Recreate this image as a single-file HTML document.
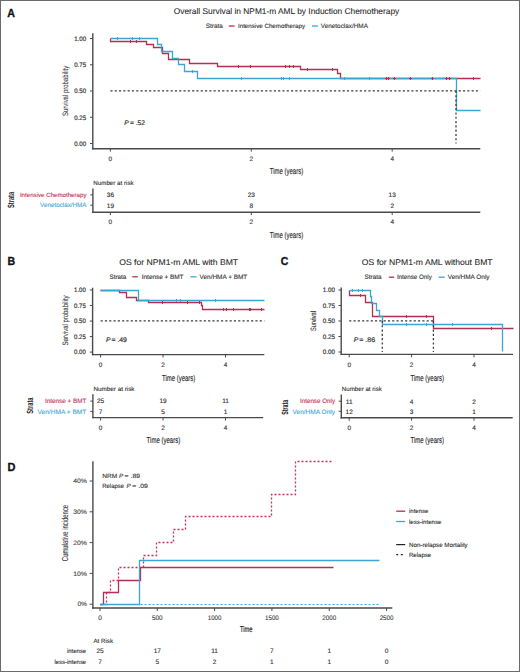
<!DOCTYPE html>
<html><head><meta charset="utf-8"><title>Figure</title>
<style>
html,body{margin:0;padding:0;background:#fff;}
body{width:520px;height:672px;overflow:hidden;font-family:"Liberation Sans", sans-serif;}
svg{display:block;}
</style></head><body>
<svg width="520" height="672" viewBox="0 0 520 672" text-rendering="geometricPrecision" font-family='"Liberation Sans", sans-serif'>
<rect x="0" y="0" width="520" height="672" fill="#ffffff"/>
<text x="7.30" y="17.15" font-size="11.8" fill="#111" stroke="#111" stroke-width="0.35" font-weight="bold" textLength="7.7" lengthAdjust="spacingAndGlyphs">A</text>
<text x="286.50" y="14.30" font-size="8.34" fill="#262626" stroke="#262626" stroke-width="0.08" text-anchor="middle" textLength="225.4" lengthAdjust="spacingAndGlyphs">Overall Survival in NPM1-m AML by Induction Chemotherapy</text>
<text x="205.80" y="28.27" font-size="6.3" fill="#333333" stroke="#333333" stroke-width="0.12" textLength="16.9" lengthAdjust="spacingAndGlyphs">Strata</text>
<line x1="228.80" y1="26.00" x2="234.60" y2="26.00" stroke="#B42F50" stroke-width="1.3"/>
<text x="238.00" y="28.23" font-size="6.2" fill="#333333" stroke="#333333" stroke-width="0.12" textLength="67" lengthAdjust="spacingAndGlyphs">Intensive Chemotherapy</text>
<line x1="312.00" y1="26.00" x2="317.90" y2="26.00" stroke="#3BA6D4" stroke-width="1.3"/>
<text x="320.80" y="28.27" font-size="6.3" fill="#333333" stroke="#333333" stroke-width="0.12" textLength="47.1" lengthAdjust="spacingAndGlyphs">Venetoclax/HMA</text>
<line x1="92.80" y1="33.30" x2="92.80" y2="149.40" stroke="#4a4a4a" stroke-width="1.4"/>
<line x1="92.10" y1="148.70" x2="480.30" y2="148.70" stroke="#4a4a4a" stroke-width="1.4"/>
<line x1="90.00" y1="38.50" x2="92.80" y2="38.50" stroke="#4a4a4a" stroke-width="1.0"/>
<text x="86.10" y="40.80" font-size="6.4" fill="#3a3a3a" stroke="#3a3a3a" stroke-width="0.2" text-anchor="end" textLength="11.9" lengthAdjust="spacingAndGlyphs">1.00</text>
<line x1="90.00" y1="64.75" x2="92.80" y2="64.75" stroke="#4a4a4a" stroke-width="1.0"/>
<text x="86.10" y="67.05" font-size="6.4" fill="#3a3a3a" stroke="#3a3a3a" stroke-width="0.2" text-anchor="end" textLength="11.9" lengthAdjust="spacingAndGlyphs">0.75</text>
<line x1="90.00" y1="91.00" x2="92.80" y2="91.00" stroke="#4a4a4a" stroke-width="1.0"/>
<text x="86.10" y="93.30" font-size="6.4" fill="#3a3a3a" stroke="#3a3a3a" stroke-width="0.2" text-anchor="end" textLength="11.9" lengthAdjust="spacingAndGlyphs">0.50</text>
<line x1="90.00" y1="117.25" x2="92.80" y2="117.25" stroke="#4a4a4a" stroke-width="1.0"/>
<text x="86.10" y="119.55" font-size="6.4" fill="#3a3a3a" stroke="#3a3a3a" stroke-width="0.2" text-anchor="end" textLength="11.9" lengthAdjust="spacingAndGlyphs">0.25</text>
<line x1="90.00" y1="143.50" x2="92.80" y2="143.50" stroke="#4a4a4a" stroke-width="1.0"/>
<text x="86.10" y="145.80" font-size="6.4" fill="#3a3a3a" stroke="#3a3a3a" stroke-width="0.2" text-anchor="end" textLength="11.9" lengthAdjust="spacingAndGlyphs">0.00</text>
<line x1="110.40" y1="148.70" x2="110.40" y2="151.60" stroke="#4a4a4a" stroke-width="1.0"/>
<text x="110.40" y="161.00" font-size="6.4" fill="#3a3a3a" stroke="#3a3a3a" stroke-width="0.15" text-anchor="middle">0</text>
<line x1="251.30" y1="148.70" x2="251.30" y2="151.60" stroke="#4a4a4a" stroke-width="1.0"/>
<text x="251.30" y="161.00" font-size="6.4" fill="#3a3a3a" stroke="#3a3a3a" stroke-width="0.15" text-anchor="middle">2</text>
<line x1="392.20" y1="148.70" x2="392.20" y2="151.60" stroke="#4a4a4a" stroke-width="1.0"/>
<text x="392.20" y="161.00" font-size="6.4" fill="#3a3a3a" stroke="#3a3a3a" stroke-width="0.15" text-anchor="middle">4</text>
<text x="286.50" y="174.33" font-size="8.7" fill="#262626" stroke="#262626" stroke-width="0.14" text-anchor="middle" textLength="33.3" lengthAdjust="spacingAndGlyphs">Time (years)</text>
<text transform="translate(68.34,90.90) rotate(-90)" x="0" y="0" font-size="7.9" fill="#2a2a2a" stroke="#2a2a2a" stroke-width="0.05" text-anchor="middle" textLength="50.2" lengthAdjust="spacingAndGlyphs">Survival probability</text>
<path d="M110.50,38.50 H110.50 V41.50 H146.50 V44.50 H153.50 V47.50 H162.50 V53.50 H168.50 V59.50 H189.50 V63.50 H217.50 V66.50 H300.50 V69.50 H337.50 V73.50 H340.50 V78.50 H480.50" fill="none" stroke="#B42F50" stroke-width="1.3"/>
<path d="M110.50,38.50 H157.50 V44.50 H161.50 V51.50 H172.50 V58.50 H178.50 V64.50 H184.50 V71.50 H197.50 V78.50 H456.50 V110.50 H480.50" fill="none" stroke="#3BA6D4" stroke-width="1.3"/>
<line x1="130.50" y1="40.00" x2="130.50" y2="43.00" stroke="#B42F50" stroke-width="1.0"/>
<line x1="129.00" y1="41.50" x2="132.00" y2="41.50" stroke="#B42F50" stroke-width="1.0"/>
<line x1="136.50" y1="40.00" x2="136.50" y2="43.00" stroke="#B42F50" stroke-width="1.0"/>
<line x1="135.00" y1="41.50" x2="138.00" y2="41.50" stroke="#B42F50" stroke-width="1.0"/>
<line x1="238.50" y1="65.00" x2="238.50" y2="68.00" stroke="#B42F50" stroke-width="1.0"/>
<line x1="237.00" y1="66.50" x2="240.00" y2="66.50" stroke="#B42F50" stroke-width="1.0"/>
<line x1="250.50" y1="65.00" x2="250.50" y2="68.00" stroke="#B42F50" stroke-width="1.0"/>
<line x1="249.00" y1="66.50" x2="252.00" y2="66.50" stroke="#B42F50" stroke-width="1.0"/>
<line x1="285.50" y1="65.00" x2="285.50" y2="68.00" stroke="#B42F50" stroke-width="1.0"/>
<line x1="284.00" y1="66.50" x2="287.00" y2="66.50" stroke="#B42F50" stroke-width="1.0"/>
<line x1="289.50" y1="65.00" x2="289.50" y2="68.00" stroke="#B42F50" stroke-width="1.0"/>
<line x1="288.00" y1="66.50" x2="291.00" y2="66.50" stroke="#B42F50" stroke-width="1.0"/>
<line x1="293.50" y1="65.00" x2="293.50" y2="68.00" stroke="#B42F50" stroke-width="1.0"/>
<line x1="292.00" y1="66.50" x2="295.00" y2="66.50" stroke="#B42F50" stroke-width="1.0"/>
<line x1="307.50" y1="68.00" x2="307.50" y2="71.00" stroke="#B42F50" stroke-width="1.0"/>
<line x1="306.00" y1="69.50" x2="309.00" y2="69.50" stroke="#B42F50" stroke-width="1.0"/>
<line x1="332.50" y1="68.00" x2="332.50" y2="71.00" stroke="#B42F50" stroke-width="1.0"/>
<line x1="331.00" y1="69.50" x2="334.00" y2="69.50" stroke="#B42F50" stroke-width="1.0"/>
<line x1="386.50" y1="77.00" x2="386.50" y2="80.00" stroke="#B42F50" stroke-width="1.0"/>
<line x1="385.00" y1="78.50" x2="388.00" y2="78.50" stroke="#B42F50" stroke-width="1.0"/>
<line x1="388.50" y1="77.00" x2="388.50" y2="80.00" stroke="#B42F50" stroke-width="1.0"/>
<line x1="387.00" y1="78.50" x2="390.00" y2="78.50" stroke="#B42F50" stroke-width="1.0"/>
<line x1="394.50" y1="77.00" x2="394.50" y2="80.00" stroke="#B42F50" stroke-width="1.0"/>
<line x1="393.00" y1="78.50" x2="396.00" y2="78.50" stroke="#B42F50" stroke-width="1.0"/>
<line x1="410.50" y1="77.00" x2="410.50" y2="80.00" stroke="#B42F50" stroke-width="1.0"/>
<line x1="409.00" y1="78.50" x2="412.00" y2="78.50" stroke="#B42F50" stroke-width="1.0"/>
<line x1="432.50" y1="77.00" x2="432.50" y2="80.00" stroke="#B42F50" stroke-width="1.0"/>
<line x1="431.00" y1="78.50" x2="434.00" y2="78.50" stroke="#B42F50" stroke-width="1.0"/>
<line x1="446.50" y1="77.00" x2="446.50" y2="80.00" stroke="#B42F50" stroke-width="1.0"/>
<line x1="445.00" y1="78.50" x2="448.00" y2="78.50" stroke="#B42F50" stroke-width="1.0"/>
<line x1="449.50" y1="77.00" x2="449.50" y2="80.00" stroke="#B42F50" stroke-width="1.0"/>
<line x1="448.00" y1="78.50" x2="451.00" y2="78.50" stroke="#B42F50" stroke-width="1.0"/>
<line x1="473.50" y1="77.00" x2="473.50" y2="80.00" stroke="#B42F50" stroke-width="1.0"/>
<line x1="472.00" y1="78.50" x2="475.00" y2="78.50" stroke="#B42F50" stroke-width="1.0"/>
<line x1="117.50" y1="37.00" x2="117.50" y2="40.00" stroke="#3BA6D4" stroke-width="1.0"/>
<line x1="116.00" y1="38.50" x2="119.00" y2="38.50" stroke="#3BA6D4" stroke-width="1.0"/>
<line x1="132.50" y1="37.00" x2="132.50" y2="40.00" stroke="#3BA6D4" stroke-width="1.0"/>
<line x1="131.00" y1="38.50" x2="134.00" y2="38.50" stroke="#3BA6D4" stroke-width="1.0"/>
<line x1="139.50" y1="37.00" x2="139.50" y2="40.00" stroke="#3BA6D4" stroke-width="1.0"/>
<line x1="138.00" y1="38.50" x2="141.00" y2="38.50" stroke="#3BA6D4" stroke-width="1.0"/>
<line x1="192.50" y1="70.00" x2="192.50" y2="73.00" stroke="#3BA6D4" stroke-width="1.0"/>
<line x1="191.00" y1="71.50" x2="194.00" y2="71.50" stroke="#3BA6D4" stroke-width="1.0"/>
<line x1="241.50" y1="77.00" x2="241.50" y2="80.00" stroke="#3BA6D4" stroke-width="1.0"/>
<line x1="240.00" y1="78.50" x2="243.00" y2="78.50" stroke="#3BA6D4" stroke-width="1.0"/>
<line x1="281.50" y1="77.00" x2="281.50" y2="80.00" stroke="#3BA6D4" stroke-width="1.0"/>
<line x1="280.00" y1="78.50" x2="283.00" y2="78.50" stroke="#3BA6D4" stroke-width="1.0"/>
<line x1="283.50" y1="77.00" x2="283.50" y2="80.00" stroke="#3BA6D4" stroke-width="1.0"/>
<line x1="282.00" y1="78.50" x2="285.00" y2="78.50" stroke="#3BA6D4" stroke-width="1.0"/>
<line x1="289.50" y1="77.00" x2="289.50" y2="80.00" stroke="#3BA6D4" stroke-width="1.0"/>
<line x1="288.00" y1="78.50" x2="291.00" y2="78.50" stroke="#3BA6D4" stroke-width="1.0"/>
<line x1="344.50" y1="77.00" x2="344.50" y2="80.00" stroke="#3BA6D4" stroke-width="1.0"/>
<line x1="343.00" y1="78.50" x2="346.00" y2="78.50" stroke="#3BA6D4" stroke-width="1.0"/>
<line x1="369.50" y1="77.00" x2="369.50" y2="80.00" stroke="#3BA6D4" stroke-width="1.0"/>
<line x1="368.00" y1="78.50" x2="371.00" y2="78.50" stroke="#3BA6D4" stroke-width="1.0"/>
<line x1="110.40" y1="90.90" x2="480.30" y2="90.90" stroke="#3a3a3a" stroke-width="1.25" stroke-dasharray="2.15,2.15"/>
<line x1="456.00" y1="90.90" x2="456.00" y2="143.50" stroke="#3a3a3a" stroke-width="1.25" stroke-dasharray="2.15,2.15"/>
<text x="124.20" y="124.81" font-size="6.7" fill="#333" stroke="#333" stroke-width="0.2" font-style="italic">P</text>
<text x="130.00" y="124.81" font-size="6.7" fill="#333" stroke="#333" stroke-width="0.2" textLength="15.0" lengthAdjust="spacingAndGlyphs">= .52</text>
<text x="93.30" y="185.03" font-size="6.2" fill="#333333" stroke="#333333" stroke-width="0.12" textLength="40.4" lengthAdjust="spacingAndGlyphs">Number at risk</text>
<line x1="92.90" y1="188.60" x2="92.90" y2="212.90" stroke="#4a4a4a" stroke-width="1.4"/>
<line x1="92.20" y1="212.20" x2="480.30" y2="212.20" stroke="#4a4a4a" stroke-width="1.4"/>
<line x1="90.30" y1="194.90" x2="92.90" y2="194.90" stroke="#4a4a4a" stroke-width="1.0"/>
<line x1="90.30" y1="205.20" x2="92.90" y2="205.20" stroke="#4a4a4a" stroke-width="1.0"/>
<text x="86.50" y="197.11" font-size="6.15" fill="#C23A5A" stroke="#C23A5A" stroke-width="0.12" text-anchor="end" textLength="66.6" lengthAdjust="spacingAndGlyphs">Intensive Chemotherapy</text>
<text x="86.50" y="207.47" font-size="6.3" fill="#45A8D8" stroke="#45A8D8" stroke-width="0.12" text-anchor="end" textLength="46.4" lengthAdjust="spacingAndGlyphs">Venetoclax/HMA</text>
<text x="110.40" y="197.24" font-size="6.5" fill="#333333" stroke="#333333" stroke-width="0.15" text-anchor="middle">36</text>
<text x="110.40" y="207.54" font-size="6.5" fill="#333333" stroke="#333333" stroke-width="0.15" text-anchor="middle">19</text>
<line x1="110.40" y1="212.20" x2="110.40" y2="215.10" stroke="#4a4a4a" stroke-width="1.0"/>
<text x="110.40" y="224.10" font-size="6.4" fill="#3a3a3a" stroke="#3a3a3a" stroke-width="0.15" text-anchor="middle">0</text>
<text x="251.30" y="197.24" font-size="6.5" fill="#333333" stroke="#333333" stroke-width="0.15" text-anchor="middle">23</text>
<text x="251.30" y="207.54" font-size="6.5" fill="#333333" stroke="#333333" stroke-width="0.15" text-anchor="middle">8</text>
<line x1="251.30" y1="212.20" x2="251.30" y2="215.10" stroke="#4a4a4a" stroke-width="1.0"/>
<text x="251.30" y="224.10" font-size="6.4" fill="#3a3a3a" stroke="#3a3a3a" stroke-width="0.15" text-anchor="middle">2</text>
<text x="392.20" y="197.24" font-size="6.5" fill="#333333" stroke="#333333" stroke-width="0.15" text-anchor="middle">13</text>
<text x="392.20" y="207.54" font-size="6.5" fill="#333333" stroke="#333333" stroke-width="0.15" text-anchor="middle">2</text>
<line x1="392.20" y1="212.20" x2="392.20" y2="215.10" stroke="#4a4a4a" stroke-width="1.0"/>
<text x="392.20" y="224.10" font-size="6.4" fill="#3a3a3a" stroke="#3a3a3a" stroke-width="0.15" text-anchor="middle">4</text>
<text x="286.50" y="237.73" font-size="8.7" fill="#262626" stroke="#262626" stroke-width="0.14" text-anchor="middle" textLength="33.3" lengthAdjust="spacingAndGlyphs">Time (years)</text>
<text transform="translate(14.44,199.90) rotate(-90)" x="0" y="0" font-size="9.0" fill="#222" stroke="#222" stroke-width="0" text-anchor="middle" textLength="16.2" lengthAdjust="spacingAndGlyphs" font-weight="bold">Strata</text>
<text x="7.50" y="264.55" font-size="11.8" fill="#111" stroke="#111" stroke-width="0.35" font-weight="bold" textLength="7.6" lengthAdjust="spacingAndGlyphs">B</text>
<text x="178.65" y="265.19" font-size="8.3" fill="#262626" stroke="#262626" stroke-width="0.08" text-anchor="middle" textLength="118.9" lengthAdjust="spacingAndGlyphs">OS for NPM1-m AML with BMT</text>
<text x="109.50" y="279.07" font-size="6.3" fill="#333333" stroke="#333333" stroke-width="0.12" textLength="16.9" lengthAdjust="spacingAndGlyphs">Strata</text>
<line x1="132.30" y1="276.80" x2="137.70" y2="276.80" stroke="#B42F50" stroke-width="1.3"/>
<text x="141.80" y="279.07" font-size="6.3" fill="#333333" stroke="#333333" stroke-width="0.12" textLength="41.7" lengthAdjust="spacingAndGlyphs">Intense + BMT</text>
<line x1="190.40" y1="276.80" x2="196.50" y2="276.80" stroke="#3BA6D4" stroke-width="1.3"/>
<text x="199.60" y="279.07" font-size="6.3" fill="#333333" stroke="#333333" stroke-width="0.12" textLength="47.7" lengthAdjust="spacingAndGlyphs">Ven/HMA + BMT</text>
<line x1="92.60" y1="287.70" x2="92.60" y2="355.30" stroke="#4a4a4a" stroke-width="1.4"/>
<line x1="91.90" y1="354.60" x2="264.30" y2="354.60" stroke="#4a4a4a" stroke-width="1.4"/>
<line x1="89.80" y1="290.00" x2="92.60" y2="290.00" stroke="#4a4a4a" stroke-width="1.0"/>
<text x="85.80" y="292.30" font-size="6.4" fill="#3a3a3a" stroke="#3a3a3a" stroke-width="0.2" text-anchor="end" textLength="11.7" lengthAdjust="spacingAndGlyphs">1.00</text>
<line x1="89.80" y1="305.53" x2="92.60" y2="305.53" stroke="#4a4a4a" stroke-width="1.0"/>
<text x="85.80" y="307.83" font-size="6.4" fill="#3a3a3a" stroke="#3a3a3a" stroke-width="0.2" text-anchor="end" textLength="11.7" lengthAdjust="spacingAndGlyphs">0.75</text>
<line x1="89.80" y1="321.05" x2="92.60" y2="321.05" stroke="#4a4a4a" stroke-width="1.0"/>
<text x="85.80" y="323.35" font-size="6.4" fill="#3a3a3a" stroke="#3a3a3a" stroke-width="0.2" text-anchor="end" textLength="11.7" lengthAdjust="spacingAndGlyphs">0.50</text>
<line x1="89.80" y1="336.58" x2="92.60" y2="336.58" stroke="#4a4a4a" stroke-width="1.0"/>
<text x="85.80" y="338.88" font-size="6.4" fill="#3a3a3a" stroke="#3a3a3a" stroke-width="0.2" text-anchor="end" textLength="11.7" lengthAdjust="spacingAndGlyphs">0.25</text>
<line x1="89.80" y1="352.10" x2="92.60" y2="352.10" stroke="#4a4a4a" stroke-width="1.0"/>
<text x="85.80" y="354.40" font-size="6.4" fill="#3a3a3a" stroke="#3a3a3a" stroke-width="0.2" text-anchor="end" textLength="11.7" lengthAdjust="spacingAndGlyphs">0.00</text>
<line x1="100.60" y1="354.60" x2="100.60" y2="357.50" stroke="#4a4a4a" stroke-width="1.0"/>
<text x="100.60" y="366.90" font-size="6.4" fill="#3a3a3a" stroke="#3a3a3a" stroke-width="0.15" text-anchor="middle">0</text>
<line x1="163.05" y1="354.60" x2="163.05" y2="357.50" stroke="#4a4a4a" stroke-width="1.0"/>
<text x="163.05" y="366.90" font-size="6.4" fill="#3a3a3a" stroke="#3a3a3a" stroke-width="0.15" text-anchor="middle">2</text>
<line x1="225.50" y1="354.60" x2="225.50" y2="357.50" stroke="#4a4a4a" stroke-width="1.0"/>
<text x="225.50" y="366.90" font-size="6.4" fill="#3a3a3a" stroke="#3a3a3a" stroke-width="0.15" text-anchor="middle">4</text>
<text x="178.65" y="380.73" font-size="8.7" fill="#262626" stroke="#262626" stroke-width="0.14" text-anchor="middle" textLength="33.3" lengthAdjust="spacingAndGlyphs">Time (years)</text>
<text transform="translate(68.34,320.40) rotate(-90)" x="0" y="0" font-size="7.9" fill="#2a2a2a" stroke="#2a2a2a" stroke-width="0.05" text-anchor="middle" textLength="50.0" lengthAdjust="spacingAndGlyphs">Survival probability</text>
<path d="M100.50,290.50 H119.50 V292.50 H126.50 V297.50 H136.50 V300.50 H148.50 V302.50 H201.50 V305.50 H202.50 V309.50 H264.50" fill="none" stroke="#B42F50" stroke-width="1.3"/>
<path d="M100.50,290.50 H138.50 V300.50 H264.50" fill="none" stroke="#3BA6D4" stroke-width="1.3"/>
<line x1="162.50" y1="301.00" x2="162.50" y2="304.00" stroke="#B42F50" stroke-width="1.0"/>
<line x1="161.00" y1="302.50" x2="164.00" y2="302.50" stroke="#B42F50" stroke-width="1.0"/>
<line x1="187.50" y1="301.00" x2="187.50" y2="304.00" stroke="#B42F50" stroke-width="1.0"/>
<line x1="186.00" y1="302.50" x2="189.00" y2="302.50" stroke="#B42F50" stroke-width="1.0"/>
<line x1="199.50" y1="301.00" x2="199.50" y2="304.00" stroke="#B42F50" stroke-width="1.0"/>
<line x1="198.00" y1="302.50" x2="201.00" y2="302.50" stroke="#B42F50" stroke-width="1.0"/>
<line x1="223.50" y1="308.00" x2="223.50" y2="311.00" stroke="#B42F50" stroke-width="1.0"/>
<line x1="222.00" y1="309.50" x2="225.00" y2="309.50" stroke="#B42F50" stroke-width="1.0"/>
<line x1="226.50" y1="308.00" x2="226.50" y2="311.00" stroke="#B42F50" stroke-width="1.0"/>
<line x1="225.00" y1="309.50" x2="228.00" y2="309.50" stroke="#B42F50" stroke-width="1.0"/>
<line x1="233.50" y1="308.00" x2="233.50" y2="311.00" stroke="#B42F50" stroke-width="1.0"/>
<line x1="232.00" y1="309.50" x2="235.00" y2="309.50" stroke="#B42F50" stroke-width="1.0"/>
<line x1="249.50" y1="308.00" x2="249.50" y2="311.00" stroke="#B42F50" stroke-width="1.0"/>
<line x1="248.00" y1="309.50" x2="251.00" y2="309.50" stroke="#B42F50" stroke-width="1.0"/>
<line x1="250.50" y1="308.00" x2="250.50" y2="311.00" stroke="#B42F50" stroke-width="1.0"/>
<line x1="249.00" y1="309.50" x2="252.00" y2="309.50" stroke="#B42F50" stroke-width="1.0"/>
<line x1="261.50" y1="308.00" x2="261.50" y2="311.00" stroke="#B42F50" stroke-width="1.0"/>
<line x1="260.00" y1="309.50" x2="263.00" y2="309.50" stroke="#B42F50" stroke-width="1.0"/>
<line x1="176.50" y1="299.00" x2="176.50" y2="302.00" stroke="#3BA6D4" stroke-width="1.0"/>
<line x1="175.00" y1="300.50" x2="178.00" y2="300.50" stroke="#3BA6D4" stroke-width="1.0"/>
<line x1="180.50" y1="299.00" x2="180.50" y2="302.00" stroke="#3BA6D4" stroke-width="1.0"/>
<line x1="179.00" y1="300.50" x2="182.00" y2="300.50" stroke="#3BA6D4" stroke-width="1.0"/>
<line x1="215.50" y1="299.00" x2="215.50" y2="302.00" stroke="#3BA6D4" stroke-width="1.0"/>
<line x1="214.00" y1="300.50" x2="217.00" y2="300.50" stroke="#3BA6D4" stroke-width="1.0"/>
<line x1="100.60" y1="320.90" x2="264.30" y2="320.90" stroke="#3a3a3a" stroke-width="1.25" stroke-dasharray="2.15,2.15"/>
<text x="106.00" y="342.01" font-size="6.7" fill="#333" stroke="#333" stroke-width="0.2" font-style="italic">P</text>
<text x="111.50" y="342.01" font-size="6.7" fill="#333" stroke="#333" stroke-width="0.2" textLength="15.4" lengthAdjust="spacingAndGlyphs">= .49</text>
<text x="93.50" y="391.33" font-size="6.2" fill="#333333" stroke="#333333" stroke-width="0.12" textLength="41" lengthAdjust="spacingAndGlyphs">Number at risk</text>
<line x1="92.90" y1="394.30" x2="92.90" y2="418.30" stroke="#4a4a4a" stroke-width="1.4"/>
<line x1="92.20" y1="417.60" x2="263.20" y2="417.60" stroke="#4a4a4a" stroke-width="1.4"/>
<line x1="90.30" y1="401.10" x2="92.90" y2="401.10" stroke="#4a4a4a" stroke-width="1.0"/>
<line x1="90.30" y1="411.40" x2="92.90" y2="411.40" stroke="#4a4a4a" stroke-width="1.0"/>
<text x="86.30" y="403.37" font-size="6.3" fill="#C23A5A" stroke="#C23A5A" stroke-width="0.12" text-anchor="end" textLength="41.3" lengthAdjust="spacingAndGlyphs">Intense + BMT</text>
<text x="86.30" y="413.67" font-size="6.3" fill="#45A8D8" stroke="#45A8D8" stroke-width="0.12" text-anchor="end" textLength="48.8" lengthAdjust="spacingAndGlyphs">Ven/HMA + BMT</text>
<text x="100.60" y="403.44" font-size="6.5" fill="#333333" stroke="#333333" stroke-width="0.15" text-anchor="middle">25</text>
<text x="100.60" y="413.74" font-size="6.5" fill="#333333" stroke="#333333" stroke-width="0.15" text-anchor="middle">7</text>
<line x1="100.60" y1="417.60" x2="100.60" y2="420.50" stroke="#4a4a4a" stroke-width="1.0"/>
<text x="100.60" y="430.30" font-size="6.4" fill="#3a3a3a" stroke="#3a3a3a" stroke-width="0.15" text-anchor="middle">0</text>
<text x="163.05" y="403.44" font-size="6.5" fill="#333333" stroke="#333333" stroke-width="0.15" text-anchor="middle">19</text>
<text x="163.05" y="413.74" font-size="6.5" fill="#333333" stroke="#333333" stroke-width="0.15" text-anchor="middle">5</text>
<line x1="163.05" y1="417.60" x2="163.05" y2="420.50" stroke="#4a4a4a" stroke-width="1.0"/>
<text x="163.05" y="430.30" font-size="6.4" fill="#3a3a3a" stroke="#3a3a3a" stroke-width="0.15" text-anchor="middle">2</text>
<text x="225.50" y="403.44" font-size="6.5" fill="#333333" stroke="#333333" stroke-width="0.15" text-anchor="middle">11</text>
<text x="225.50" y="413.74" font-size="6.5" fill="#333333" stroke="#333333" stroke-width="0.15" text-anchor="middle">1</text>
<line x1="225.50" y1="417.60" x2="225.50" y2="420.50" stroke="#4a4a4a" stroke-width="1.0"/>
<text x="225.50" y="430.30" font-size="6.4" fill="#3a3a3a" stroke="#3a3a3a" stroke-width="0.15" text-anchor="middle">4</text>
<text x="163.40" y="443.13" font-size="8.7" fill="#262626" stroke="#262626" stroke-width="0.14" text-anchor="middle" textLength="33.6" lengthAdjust="spacingAndGlyphs">Time (years)</text>
<text transform="translate(32.84,405.60) rotate(-90)" x="0" y="0" font-size="9.0" fill="#222" stroke="#222" stroke-width="0" text-anchor="middle" textLength="16.2" lengthAdjust="spacingAndGlyphs" font-weight="bold">Strata</text>
<text x="280.70" y="265.03" font-size="11.6" fill="#111" stroke="#111" stroke-width="0.35" font-weight="bold" textLength="7.5" lengthAdjust="spacingAndGlyphs">C</text>
<text x="427.20" y="265.19" font-size="8.3" fill="#262626" stroke="#262626" stroke-width="0.08" text-anchor="middle" textLength="130.8" lengthAdjust="spacingAndGlyphs">OS for NPM1-m AML without BMT</text>
<text x="364.60" y="279.47" font-size="6.3" fill="#333333" stroke="#333333" stroke-width="0.12" textLength="16.9" lengthAdjust="spacingAndGlyphs">Strata</text>
<line x1="388.80" y1="277.20" x2="394.20" y2="277.20" stroke="#B42F50" stroke-width="1.3"/>
<text x="396.90" y="279.47" font-size="6.3" fill="#333333" stroke="#333333" stroke-width="0.12" textLength="34.9" lengthAdjust="spacingAndGlyphs">Intense Only</text>
<line x1="438.60" y1="277.20" x2="444.70" y2="277.20" stroke="#3BA6D4" stroke-width="1.3"/>
<text x="447.70" y="279.47" font-size="6.3" fill="#333333" stroke="#333333" stroke-width="0.12" textLength="41.9" lengthAdjust="spacingAndGlyphs">Ven/HMA Only</text>
<line x1="341.20" y1="287.40" x2="341.20" y2="355.00" stroke="#4a4a4a" stroke-width="1.4"/>
<line x1="340.50" y1="354.40" x2="513.00" y2="354.40" stroke="#4a4a4a" stroke-width="1.4"/>
<line x1="338.40" y1="290.00" x2="341.20" y2="290.00" stroke="#4a4a4a" stroke-width="1.0"/>
<text x="335.00" y="292.30" font-size="6.4" fill="#3a3a3a" stroke="#3a3a3a" stroke-width="0.2" text-anchor="end" textLength="12.2" lengthAdjust="spacingAndGlyphs">1.00</text>
<line x1="338.40" y1="305.50" x2="341.20" y2="305.50" stroke="#4a4a4a" stroke-width="1.0"/>
<text x="335.00" y="307.80" font-size="6.4" fill="#3a3a3a" stroke="#3a3a3a" stroke-width="0.2" text-anchor="end" textLength="12.2" lengthAdjust="spacingAndGlyphs">0.75</text>
<line x1="338.40" y1="321.00" x2="341.20" y2="321.00" stroke="#4a4a4a" stroke-width="1.0"/>
<text x="335.00" y="323.30" font-size="6.4" fill="#3a3a3a" stroke="#3a3a3a" stroke-width="0.2" text-anchor="end" textLength="12.2" lengthAdjust="spacingAndGlyphs">0.50</text>
<line x1="338.40" y1="336.50" x2="341.20" y2="336.50" stroke="#4a4a4a" stroke-width="1.0"/>
<text x="335.00" y="338.80" font-size="6.4" fill="#3a3a3a" stroke="#3a3a3a" stroke-width="0.2" text-anchor="end" textLength="12.2" lengthAdjust="spacingAndGlyphs">0.25</text>
<line x1="338.40" y1="352.00" x2="341.20" y2="352.00" stroke="#4a4a4a" stroke-width="1.0"/>
<text x="335.00" y="354.30" font-size="6.4" fill="#3a3a3a" stroke="#3a3a3a" stroke-width="0.2" text-anchor="end" textLength="12.2" lengthAdjust="spacingAndGlyphs">0.00</text>
<line x1="349.20" y1="354.40" x2="349.20" y2="357.30" stroke="#4a4a4a" stroke-width="1.0"/>
<text x="349.20" y="367.10" font-size="6.4" fill="#3a3a3a" stroke="#3a3a3a" stroke-width="0.15" text-anchor="middle">0</text>
<line x1="411.60" y1="354.40" x2="411.60" y2="357.30" stroke="#4a4a4a" stroke-width="1.0"/>
<text x="411.60" y="367.10" font-size="6.4" fill="#3a3a3a" stroke="#3a3a3a" stroke-width="0.15" text-anchor="middle">2</text>
<line x1="474.00" y1="354.40" x2="474.00" y2="357.30" stroke="#4a4a4a" stroke-width="1.0"/>
<text x="474.00" y="367.10" font-size="6.4" fill="#3a3a3a" stroke="#3a3a3a" stroke-width="0.15" text-anchor="middle">4</text>
<text x="427.30" y="381.13" font-size="8.7" fill="#262626" stroke="#262626" stroke-width="0.14" text-anchor="middle" textLength="33.7" lengthAdjust="spacingAndGlyphs">Time (years)</text>
<text transform="translate(316.44,321.00) rotate(-90)" x="0" y="0" font-size="7.9" fill="#2a2a2a" stroke="#2a2a2a" stroke-width="0.05" text-anchor="middle" textLength="19.8" lengthAdjust="spacingAndGlyphs">Survival</text>
<path d="M349.50,290.50 H349.50 V295.50 H365.50 V302.50 H372.50 V316.50 H433.50 V328.50 H513.50" fill="none" stroke="#B42F50" stroke-width="1.3"/>
<path d="M349.50,290.50 H370.50 V296.50 H371.50 V303.50 H376.50 V310.50 H379.50 V316.50 H382.50 V324.50 H502.50 V351.50" fill="none" stroke="#3BA6D4" stroke-width="1.3"/>
<line x1="360.50" y1="294.00" x2="360.50" y2="297.00" stroke="#B42F50" stroke-width="1.0"/>
<line x1="359.00" y1="295.50" x2="362.00" y2="295.50" stroke="#B42F50" stroke-width="1.0"/>
<line x1="406.50" y1="315.00" x2="406.50" y2="318.00" stroke="#B42F50" stroke-width="1.0"/>
<line x1="405.00" y1="316.50" x2="408.00" y2="316.50" stroke="#B42F50" stroke-width="1.0"/>
<line x1="426.50" y1="315.00" x2="426.50" y2="318.00" stroke="#B42F50" stroke-width="1.0"/>
<line x1="425.00" y1="316.50" x2="428.00" y2="316.50" stroke="#B42F50" stroke-width="1.0"/>
<line x1="491.50" y1="327.00" x2="491.50" y2="330.00" stroke="#B42F50" stroke-width="1.0"/>
<line x1="490.00" y1="328.50" x2="493.00" y2="328.50" stroke="#B42F50" stroke-width="1.0"/>
<line x1="352.50" y1="289.00" x2="352.50" y2="292.00" stroke="#3BA6D4" stroke-width="1.0"/>
<line x1="351.00" y1="290.50" x2="354.00" y2="290.50" stroke="#3BA6D4" stroke-width="1.0"/>
<line x1="358.50" y1="289.00" x2="358.50" y2="292.00" stroke="#3BA6D4" stroke-width="1.0"/>
<line x1="357.00" y1="290.50" x2="360.00" y2="290.50" stroke="#3BA6D4" stroke-width="1.0"/>
<line x1="362.50" y1="289.00" x2="362.50" y2="292.00" stroke="#3BA6D4" stroke-width="1.0"/>
<line x1="361.00" y1="290.50" x2="364.00" y2="290.50" stroke="#3BA6D4" stroke-width="1.0"/>
<line x1="406.50" y1="323.00" x2="406.50" y2="326.00" stroke="#3BA6D4" stroke-width="1.0"/>
<line x1="405.00" y1="324.50" x2="408.00" y2="324.50" stroke="#3BA6D4" stroke-width="1.0"/>
<line x1="426.50" y1="323.00" x2="426.50" y2="326.00" stroke="#3BA6D4" stroke-width="1.0"/>
<line x1="425.00" y1="324.50" x2="428.00" y2="324.50" stroke="#3BA6D4" stroke-width="1.0"/>
<line x1="452.50" y1="323.00" x2="452.50" y2="326.00" stroke="#3BA6D4" stroke-width="1.0"/>
<line x1="451.00" y1="324.50" x2="454.00" y2="324.50" stroke="#3BA6D4" stroke-width="1.0"/>
<line x1="349.20" y1="320.90" x2="433.40" y2="320.90" stroke="#3a3a3a" stroke-width="1.25" stroke-dasharray="2.15,2.15"/>
<line x1="382.30" y1="320.90" x2="382.30" y2="352.00" stroke="#3a3a3a" stroke-width="1.25" stroke-dasharray="2.15,2.15"/>
<line x1="433.40" y1="320.90" x2="433.40" y2="352.00" stroke="#3a3a3a" stroke-width="1.25" stroke-dasharray="2.15,2.15"/>
<text x="353.80" y="342.11" font-size="6.7" fill="#333" stroke="#333" stroke-width="0.2" font-style="italic">P</text>
<text x="359.20" y="342.11" font-size="6.7" fill="#333" stroke="#333" stroke-width="0.2" textLength="15.9" lengthAdjust="spacingAndGlyphs">= .86</text>
<text x="341.80" y="391.33" font-size="6.2" fill="#333333" stroke="#333333" stroke-width="0.12" textLength="40" lengthAdjust="spacingAndGlyphs">Number at risk</text>
<line x1="341.30" y1="394.40" x2="341.30" y2="418.50" stroke="#4a4a4a" stroke-width="1.4"/>
<line x1="340.60" y1="417.80" x2="512.70" y2="417.80" stroke="#4a4a4a" stroke-width="1.4"/>
<line x1="338.70" y1="401.20" x2="341.30" y2="401.20" stroke="#4a4a4a" stroke-width="1.0"/>
<line x1="338.70" y1="411.30" x2="341.30" y2="411.30" stroke="#4a4a4a" stroke-width="1.0"/>
<text x="335.00" y="403.47" font-size="6.3" fill="#C23A5A" stroke="#C23A5A" stroke-width="0.12" text-anchor="end" textLength="35" lengthAdjust="spacingAndGlyphs">Intense Only</text>
<text x="335.00" y="413.57" font-size="6.3" fill="#45A8D8" stroke="#45A8D8" stroke-width="0.12" text-anchor="end" textLength="42.5" lengthAdjust="spacingAndGlyphs">Ven/HMA Only</text>
<text x="349.20" y="403.54" font-size="6.5" fill="#333333" stroke="#333333" stroke-width="0.15" text-anchor="middle">11</text>
<text x="349.20" y="413.64" font-size="6.5" fill="#333333" stroke="#333333" stroke-width="0.15" text-anchor="middle">12</text>
<line x1="349.20" y1="417.80" x2="349.20" y2="420.70" stroke="#4a4a4a" stroke-width="1.0"/>
<text x="349.20" y="430.20" font-size="6.4" fill="#3a3a3a" stroke="#3a3a3a" stroke-width="0.15" text-anchor="middle">0</text>
<text x="411.60" y="403.54" font-size="6.5" fill="#333333" stroke="#333333" stroke-width="0.15" text-anchor="middle">4</text>
<text x="411.60" y="413.64" font-size="6.5" fill="#333333" stroke="#333333" stroke-width="0.15" text-anchor="middle">3</text>
<line x1="411.60" y1="417.80" x2="411.60" y2="420.70" stroke="#4a4a4a" stroke-width="1.0"/>
<text x="411.60" y="430.20" font-size="6.4" fill="#3a3a3a" stroke="#3a3a3a" stroke-width="0.15" text-anchor="middle">2</text>
<text x="474.00" y="403.54" font-size="6.5" fill="#333333" stroke="#333333" stroke-width="0.15" text-anchor="middle">2</text>
<text x="474.00" y="413.64" font-size="6.5" fill="#333333" stroke="#333333" stroke-width="0.15" text-anchor="middle">1</text>
<line x1="474.00" y1="417.80" x2="474.00" y2="420.70" stroke="#4a4a4a" stroke-width="1.0"/>
<text x="474.00" y="430.20" font-size="6.4" fill="#3a3a3a" stroke="#3a3a3a" stroke-width="0.15" text-anchor="middle">4</text>
<text x="427.30" y="443.23" font-size="8.7" fill="#262626" stroke="#262626" stroke-width="0.14" text-anchor="middle" textLength="33.7" lengthAdjust="spacingAndGlyphs">Time (years)</text>
<text transform="translate(288.04,407.30) rotate(-90)" x="0" y="0" font-size="9.0" fill="#222" stroke="#222" stroke-width="0" text-anchor="middle" textLength="15" lengthAdjust="spacingAndGlyphs" font-weight="bold">Strata</text>
<text x="7.50" y="470.53" font-size="11.6" fill="#111" stroke="#111" stroke-width="0.35" font-weight="bold" textLength="7.9" lengthAdjust="spacingAndGlyphs">D</text>
<line x1="92.90" y1="461.20" x2="92.90" y2="608.70" stroke="#4a4a4a" stroke-width="1.4"/>
<line x1="92.20" y1="608.00" x2="392.30" y2="608.00" stroke="#4a4a4a" stroke-width="1.4"/>
<line x1="89.60" y1="604.20" x2="92.90" y2="604.20" stroke="#4a4a4a" stroke-width="1.0"/>
<text x="87.00" y="606.47" font-size="6.3" fill="#444" stroke="#444" stroke-width="0.12" text-anchor="end" textLength="9.6" lengthAdjust="spacingAndGlyphs">0%</text>
<line x1="89.60" y1="573.40" x2="92.90" y2="573.40" stroke="#4a4a4a" stroke-width="1.0"/>
<text x="87.00" y="575.67" font-size="6.3" fill="#444" stroke="#444" stroke-width="0.12" text-anchor="end" textLength="13.8" lengthAdjust="spacingAndGlyphs">10%</text>
<line x1="89.60" y1="542.60" x2="92.90" y2="542.60" stroke="#4a4a4a" stroke-width="1.0"/>
<text x="87.00" y="544.87" font-size="6.3" fill="#444" stroke="#444" stroke-width="0.12" text-anchor="end" textLength="13.8" lengthAdjust="spacingAndGlyphs">20%</text>
<line x1="89.60" y1="511.80" x2="92.90" y2="511.80" stroke="#4a4a4a" stroke-width="1.0"/>
<text x="87.00" y="514.07" font-size="6.3" fill="#444" stroke="#444" stroke-width="0.12" text-anchor="end" textLength="13.8" lengthAdjust="spacingAndGlyphs">30%</text>
<line x1="89.60" y1="481.00" x2="92.90" y2="481.00" stroke="#4a4a4a" stroke-width="1.0"/>
<text x="87.00" y="483.27" font-size="6.3" fill="#444" stroke="#444" stroke-width="0.12" text-anchor="end" textLength="13.8" lengthAdjust="spacingAndGlyphs">40%</text>
<line x1="100.00" y1="608.00" x2="100.00" y2="611.00" stroke="#4a4a4a" stroke-width="1.0"/>
<text x="100.00" y="619.98" font-size="6.6" fill="#3a3a3a" stroke="#3a3a3a" stroke-width="0.1" text-anchor="middle">0</text>
<line x1="157.31" y1="608.00" x2="157.31" y2="611.00" stroke="#4a4a4a" stroke-width="1.0"/>
<text x="157.31" y="619.98" font-size="6.6" fill="#3a3a3a" stroke="#3a3a3a" stroke-width="0.1" text-anchor="middle" textLength="10.7" lengthAdjust="spacingAndGlyphs">500</text>
<line x1="214.62" y1="608.00" x2="214.62" y2="611.00" stroke="#4a4a4a" stroke-width="1.0"/>
<text x="214.62" y="619.98" font-size="6.6" fill="#3a3a3a" stroke="#3a3a3a" stroke-width="0.1" text-anchor="middle" textLength="13.8" lengthAdjust="spacingAndGlyphs">1000</text>
<line x1="271.93" y1="608.00" x2="271.93" y2="611.00" stroke="#4a4a4a" stroke-width="1.0"/>
<text x="271.93" y="619.98" font-size="6.6" fill="#3a3a3a" stroke="#3a3a3a" stroke-width="0.1" text-anchor="middle" textLength="13.8" lengthAdjust="spacingAndGlyphs">1500</text>
<line x1="329.24" y1="608.00" x2="329.24" y2="611.00" stroke="#4a4a4a" stroke-width="1.0"/>
<text x="329.24" y="619.98" font-size="6.6" fill="#3a3a3a" stroke="#3a3a3a" stroke-width="0.1" text-anchor="middle" textLength="13.8" lengthAdjust="spacingAndGlyphs">2000</text>
<line x1="386.55" y1="608.00" x2="386.55" y2="611.00" stroke="#4a4a4a" stroke-width="1.0"/>
<text x="386.55" y="619.98" font-size="6.6" fill="#3a3a3a" stroke="#3a3a3a" stroke-width="0.1" text-anchor="middle" textLength="13.8" lengthAdjust="spacingAndGlyphs">2500</text>
<text x="246.20" y="631.79" font-size="8.3" fill="#222" stroke="#222" stroke-width="0.2" text-anchor="middle" textLength="12.2" lengthAdjust="spacingAndGlyphs">Time</text>
<text transform="translate(68.13,533.00) rotate(-90)" x="0" y="0" font-size="8.7" fill="#2a2a2a" stroke="#2a2a2a" stroke-width="0.05" text-anchor="middle" textLength="56.3" lengthAdjust="spacingAndGlyphs">Cumulative incidence</text>
<text x="102.20" y="478.23" font-size="6.2" fill="#333" stroke="#333" stroke-width="0.12" textLength="15.0" lengthAdjust="spacingAndGlyphs">NRM</text>
<text x="119.00" y="478.23" font-size="6.2" fill="#333" stroke="#333" stroke-width="0.12" font-style="italic">P</text>
<text x="124.60" y="478.23" font-size="6.2" fill="#333" stroke="#333" stroke-width="0.12" textLength="15.4" lengthAdjust="spacingAndGlyphs">= .89</text>
<text x="102.20" y="488.43" font-size="6.2" fill="#333" stroke="#333" stroke-width="0.12" textLength="22.0" lengthAdjust="spacingAndGlyphs">Relapse</text>
<text x="126.60" y="488.43" font-size="6.2" fill="#333" stroke="#333" stroke-width="0.12" font-style="italic">P</text>
<text x="132.30" y="488.43" font-size="6.2" fill="#333" stroke="#333" stroke-width="0.12" textLength="15.5" lengthAdjust="spacingAndGlyphs">= .09</text>
<path d="M100.50,604.50 H379.50" fill="none" stroke="#3BA6D4" stroke-width="1.0" stroke-dasharray="2,2"/>
<path d="M100.50,604.50 H106.50 V592.50 H110.50 V580.50 H118.50 V567.50 H143.50 V555.50 H156.50 V542.50 H173.50 V529.50 H185.50 V516.50 H271.50 V494.50 H295.50 V461.50 H332.50" fill="none" stroke="#B8355A" stroke-width="1.3" stroke-dasharray="2,2"/>
<path d="M100.50,604.50 H103.50 V592.50 H118.50 V580.50 H140.50 V567.50 H333.50" fill="none" stroke="#B42F50" stroke-width="1.3"/>
<path d="M100.50,604.50 H139.50 V560.50 H379.50" fill="none" stroke="#3BA6D4" stroke-width="1.3"/>
<line x1="396.20" y1="511.20" x2="405.20" y2="511.20" stroke="#B42F50" stroke-width="1.3"/>
<text x="409.00" y="513.40" font-size="6.1" fill="#333" stroke="#333" stroke-width="0.12" textLength="19.3" lengthAdjust="spacingAndGlyphs">intense</text>
<line x1="396.20" y1="521.50" x2="405.20" y2="521.50" stroke="#3BA6D4" stroke-width="1.3"/>
<text x="409.00" y="523.70" font-size="6.1" fill="#333" stroke="#333" stroke-width="0.12" textLength="32.3" lengthAdjust="spacingAndGlyphs">less-intense</text>
<line x1="396.20" y1="544.60" x2="405.20" y2="544.60" stroke="#222" stroke-width="1.2"/>
<text x="409.00" y="546.83" font-size="6.2" fill="#333" stroke="#333" stroke-width="0.12" textLength="58.7" lengthAdjust="spacingAndGlyphs">Non-relapse Mortality</text>
<line x1="396.20" y1="554.60" x2="405.20" y2="554.60" stroke="#222" stroke-width="1.2" stroke-dasharray="2,2.6"/>
<text x="409.00" y="557.00" font-size="6.1" fill="#333" stroke="#333" stroke-width="0.12" textLength="22.2" lengthAdjust="spacingAndGlyphs">Relapse</text>
<text x="93.50" y="642.63" font-size="6.2" fill="#333" stroke="#333" stroke-width="0.12" textLength="19.5" lengthAdjust="spacingAndGlyphs">At Risk</text>
<text x="86.20" y="653.20" font-size="6.1" fill="#333" stroke="#333" stroke-width="0.12" text-anchor="end" textLength="19.3" lengthAdjust="spacingAndGlyphs">intense</text>
<text x="86.20" y="663.50" font-size="6.1" fill="#333" stroke="#333" stroke-width="0.12" text-anchor="end" textLength="31.8" lengthAdjust="spacingAndGlyphs">less-intense</text>
<text x="100.00" y="653.34" font-size="6.5" fill="#333" stroke="#333" stroke-width="0.12" text-anchor="middle">25</text>
<text x="100.00" y="663.74" font-size="6.5" fill="#333" stroke="#333" stroke-width="0.12" text-anchor="middle">7</text>
<text x="157.31" y="653.34" font-size="6.5" fill="#333" stroke="#333" stroke-width="0.12" text-anchor="middle">17</text>
<text x="157.31" y="663.74" font-size="6.5" fill="#333" stroke="#333" stroke-width="0.12" text-anchor="middle">5</text>
<text x="214.62" y="653.34" font-size="6.5" fill="#333" stroke="#333" stroke-width="0.12" text-anchor="middle">11</text>
<text x="214.62" y="663.74" font-size="6.5" fill="#333" stroke="#333" stroke-width="0.12" text-anchor="middle">2</text>
<text x="271.93" y="653.34" font-size="6.5" fill="#333" stroke="#333" stroke-width="0.12" text-anchor="middle">7</text>
<text x="271.93" y="663.74" font-size="6.5" fill="#333" stroke="#333" stroke-width="0.12" text-anchor="middle">1</text>
<text x="329.24" y="653.34" font-size="6.5" fill="#333" stroke="#333" stroke-width="0.12" text-anchor="middle">1</text>
<text x="329.24" y="663.74" font-size="6.5" fill="#333" stroke="#333" stroke-width="0.12" text-anchor="middle">1</text>
<text x="386.55" y="653.34" font-size="6.5" fill="#333" stroke="#333" stroke-width="0.12" text-anchor="middle">0</text>
<text x="386.55" y="663.74" font-size="6.5" fill="#333" stroke="#333" stroke-width="0.12" text-anchor="middle">0</text>
<rect x="0.5" y="0.5" width="519" height="671" fill="none" stroke="#6a6a6a" stroke-width="1"/>
</svg>
</body></html>
